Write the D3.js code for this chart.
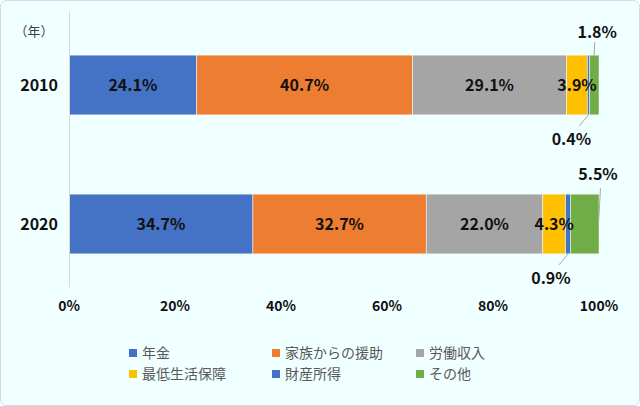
<!DOCTYPE html>
<html>
<head>
<meta charset="utf-8">
<script src="https://cdn.jsdelivr.net/npm/d3@7"></script>
<style>
  html, body { margin: 0; padding: 0; background: #fff; }
  svg { display: block; }
  text { font-family: "Noto Sans CJK JP", "Noto Sans", sans-serif; }
</style>
</head>
<body>
<div id="chart"></div>
<script>
var years = ["2010", "2020"];
var seriesNames = ["年金", "家族からの援助", "労働収入", "最低生活保障", "財産所得", "その他"];
var seriesColors = ["#4472C4", "#ED7D31", "#A5A5A5", "#FFC000", "#4472C4", "#70AD47"];
var values2010 = [24.1, 40.7, 29.1, 3.9, 0.4, 1.8];
var values2020 = [34.7, 32.7, 22.0, 4.3, 0.9, 5.5];
var xTicks = [0, 20, 40, 60, 80, 100];

function init(){
    var w = 640;
    var h = 406;
    var allValues = [values2010, values2020];

    var svg = d3.select("#chart")
                .append("svg")
                .attr("width", w)
                .attr("height", h);

    // background with rounded border
    svg.append("rect")
        .attr("x", 0.5).attr("y", 0.5)
        .attr("width", w - 1).attr("height", h - 1)
        .attr("rx", 6)
        .attr("fill", "#F0FFFF")
        .attr("stroke", "#D9D9D9");

    var xScale = d3.scaleLinear().domain([0, 100]).range([69, 599]);
    var yScale = d3.scaleBand()
                    .domain(years)
                    .range([15.5, 293.5])
                    .paddingInner(0.57)
                    .paddingOuter(0.285);

    // stacked rows
    var rows = years.map(function(y, i) {
        var acc = 0;
        return allValues[i].map(function(v, j) {
            var seg = {year: y, idx: j, value: v, x0: acc, x1: acc + v};
            acc += v;
            return seg;
        });
    });

    var segs = d3.merge(rows);

    svg.selectAll("rect.bar")
        .data(segs)
        .enter()
        .append("rect")
        .attr("class", "bar")
        .attr("x", function(d) { return xScale(d.x0); })
        .attr("y", function(d) { return yScale(d.year); })
        .attr("width", function(d) { return xScale(Math.min(d.x1, 100)) - xScale(d.x0); })
        .attr("height", yScale.bandwidth())
        .attr("fill", function(d) { return seriesColors[d.idx]; })
        .attr("stroke", "#ffffff")
        .attr("stroke-width", 0.5);

    // y axis line
    svg.append("line")
        .attr("x1", 69.5).attr("x2", 69.5)
        .attr("y1", 11).attr("y2", 287)
        .attr("stroke", "#D9D9D9")
        .attr("stroke-width", 1);

    // x tick labels
    svg.selectAll("text.xtick")
        .data(xTicks)
        .enter()
        .append("text")
        .attr("class", "xtick")
        .attr("x", function(d) { return xScale(d); })
        .attr("y", 311)
        .attr("text-anchor", "middle")
        .attr("font-size", "14px")
        .attr("font-weight", "bold")
        .attr("fill", "#111")
        .text(function(d) { return d + "%"; });

    // year labels
    svg.selectAll("text.ylab")
        .data(years)
        .enter()
        .append("text")
        .attr("class", "ylab")
        .attr("x", 58)
        .attr("y", function(d) { return yScale(d) + yScale.bandwidth() / 2 + 6; })
        .attr("text-anchor", "end")
        .attr("font-size", "16px")
        .attr("font-weight", "bold")
        .attr("fill", "#111")
        .text(function(d) { return d; });

    svg.append("text")
        .attr("x", 34).attr("y", 36)
        .attr("text-anchor", "middle")
        .attr("font-size", "13px")
        .attr("fill", "#404040")
        .text("（年）");

    // inside labels (first four series)
    var inside = segs.filter(function(d) { return d.idx < 4; });
    svg.selectAll("text.val")
        .data(inside)
        .enter()
        .append("text")
        .attr("class", "val")
        .attr("x", function(d) { return xScale((d.x0 + d.x1) / 2); })
        .attr("y", function(d) { return yScale(d.year) + yScale.bandwidth() / 2 + 6; })
        .attr("text-anchor", "middle")
        .attr("font-size", "16px")
        .attr("font-weight", "bold")
        .attr("fill", "#111")
        .text(function(d) { return d.value.toFixed(1) + "%"; });

    // outside labels with leader lines
    var outside = segs.filter(function(d) { return d.idx >= 4; });
    var bw = yScale.bandwidth();
    outside.forEach(function(d) {
        var cx = xScale((d.x0 + Math.min(d.x1, 100)) / 2);
        var top = yScale(d.year);
        var pts, lx, ly;
        if (d.idx === 4) {
            // below the bar
            pts = [[cx, top + bw], [cx - 9, top + bw + 11]];
            lx = cx - 17; ly = top + bw + 30;
        } else if (d.year === "2010") {
            pts = [[cx, top], [cx + 0.5, top - 13]];
            lx = cx + 3; ly = top - 17;
        } else {
            pts = [[xScale(100) - 0.5, top + 29], [xScale(100) + 1.5, top - 6]];
            lx = xScale(100) - 1; ly = top - 14;
        }
        svg.append("line")
            .attr("x1", pts[0][0]).attr("y1", pts[0][1])
            .attr("x2", pts[1][0]).attr("y2", pts[1][1])
            .attr("stroke", "#A6A6A6")
            .attr("stroke-width", 1);
        svg.append("text")
            .attr("x", lx).attr("y", ly)
            .attr("text-anchor", "middle")
            .attr("font-size", "16px")
            .attr("font-weight", "bold")
            .attr("fill", "#111")
            .text(d.value.toFixed(1) + "%");
    });

    // legend
    var legendX = [129, 272, 416];
    var legendY = [353, 374];
    var legend = svg.selectAll("g.legend")
        .data(seriesNames)
        .enter()
        .append("g")
        .attr("class", "legend")
        .attr("transform", function(d, i) {
            return "translate(" + legendX[i % 3] + "," + legendY[Math.floor(i / 3)] + ")";
        });

    legend.append("rect")
        .attr("x", 0).attr("y", -4)
        .attr("width", 8).attr("height", 8)
        .attr("fill", function(d, i) { return seriesColors[i]; });

    legend.append("text")
        .attr("x", 13).attr("y", 5)
        .attr("font-size", "14px")
        .attr("fill", "#595959")
        .text(function(d) { return d; });
}
window.onload = init;
</script>
</body>
</html>
